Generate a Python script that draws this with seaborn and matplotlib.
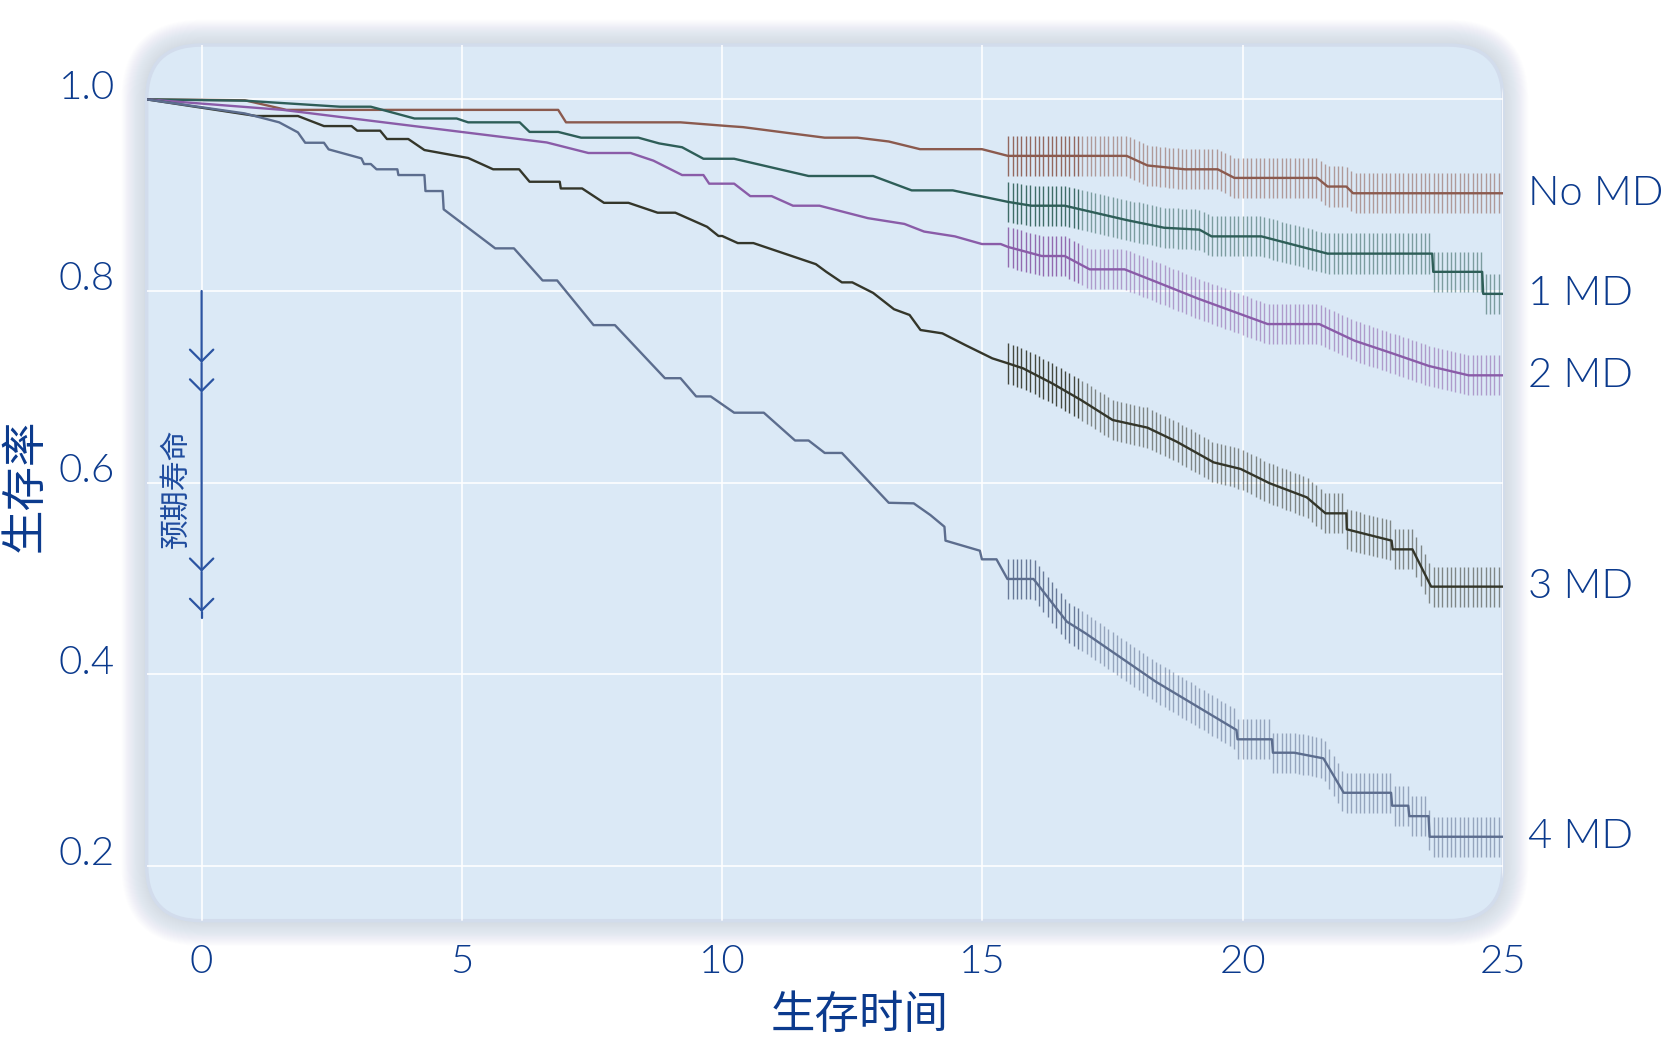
import numpy as np
import pandas as pd
import matplotlib
matplotlib.use("Agg")
import matplotlib.pyplot as plt
import seaborn as sns
from matplotlib.patches import FancyBboxPatch
from matplotlib.transforms import ScaledTranslation

# ---------------- data ----------------
groups = ["No MD", "1 MD", "2 MD", "3 MD", "4 MD"]
colors = ["#8b5a4e", "#2e5e58", "#8a5ca8", "#34362a", "#5c6d8e"]

t_no = [-1.06, 0.83, 1.63, 6.85, 7.0, 9.2, 10.14, 10.4, 11.25, 11.97, 12.6, 13.2, 13.8, 14.99, 15.49,
        17.77, 18.17, 18.89, 19.52, 19.84, 21.43, 21.63, 21.99, 22.12, 25.0]
s_no = [1.0, 0.999, 0.989, 0.989, 0.976, 0.976, 0.972, 0.971, 0.965, 0.960, 0.960, 0.956, 0.948, 0.948, 0.941,
        0.941, 0.931, 0.927, 0.927, 0.918, 0.918, 0.909, 0.909, 0.902, 0.902]

t_1 = [-1.06, 0.83, 2.66, 3.25, 4.09, 4.9, 5.12, 6.11, 6.3, 6.85, 7.29, 8.39, 8.79, 9.23, 9.64, 10.23, 11.66,
       12.9, 13.64, 14.43, 15.49, 15.94, 16.58, 17.77, 18.49, 19.17, 19.4, 20.36, 21.63, 23.64, 23.66, 24.6,
       24.62, 25.0]
s_1 = [1.0, 0.9986, 0.9923, 0.9923, 0.980, 0.980, 0.976, 0.976, 0.966, 0.966, 0.960, 0.960, 0.954, 0.950,
       0.938, 0.938, 0.920, 0.920, 0.905, 0.905, 0.893, 0.889, 0.889, 0.874, 0.866, 0.864, 0.857, 0.857, 0.839,
       0.839, 0.820, 0.820, 0.797, 0.797]

t_2 = [-1.06, 1.56, 6.63, 7.43, 8.24, 8.68, 9.23, 9.64, 9.75, 10.23, 10.54, 10.95, 11.36, 11.87, 12.8, 13.5,
       13.88, 14.47, 14.99, 15.35, 15.49, 16.14, 16.58, 17.06, 17.73, 18.33, 19.13, 19.92, 20.48, 21.47, 22.15,
       22.87, 23.58, 24.34, 25.0]
s_2 = [1.0, 0.989, 0.955, 0.944, 0.944, 0.936, 0.921, 0.921, 0.912, 0.912, 0.899, 0.899, 0.889, 0.889, 0.876,
       0.870, 0.862, 0.857, 0.849, 0.849, 0.846, 0.8365, 0.8365, 0.8226, 0.8226, 0.8097, 0.7923, 0.7766, 0.7655,
       0.7655, 0.7481, 0.735, 0.7217, 0.712, 0.712]

t_3 = [-1.06, 1.05, 1.85, 2.35, 2.88, 2.99, 3.43, 3.56, 3.97, 4.28, 5.12, 5.6, 6.1, 6.3, 6.88, 6.9, 7.31, 7.73,
       8.2, 8.76, 9.1, 9.71, 9.93, 10.0, 10.3, 10.6, 11.8, 12.0, 12.3, 12.5, 12.9, 13.3, 13.6, 13.81, 14.23,
       14.67, 15.19, 15.49, 15.78, 16.34, 16.9, 17.5, 18.17, 18.73, 19.44, 19.96, 20.52, 21.23, 21.59, 21.99,
       22.0, 22.86, 22.88, 23.26, 23.62, 25.0]
s_3 = [1.0, 0.9826, 0.9826, 0.9721, 0.9721, 0.9673, 0.9673, 0.9586, 0.9586, 0.9471, 0.9388, 0.927, 0.927,
       0.914, 0.914, 0.907, 0.907, 0.892, 0.892, 0.8817, 0.8817, 0.867, 0.8574, 0.8574, 0.85, 0.85, 0.828, 0.82,
       0.809, 0.809, 0.798, 0.781, 0.775, 0.7593, 0.7558, 0.7436, 0.7297, 0.7245, 0.7193, 0.7036, 0.686,
       0.6654, 0.6574, 0.6428, 0.6212, 0.6143, 0.5993, 0.5847, 0.568, 0.568, 0.5513, 0.5395, 0.5304, 0.5304,
       0.4915, 0.4915]

t_4 = [-1.06, 0.83, 1.49, 1.85, 1.99, 2.35, 2.44, 3.07, 3.12, 3.25, 3.36, 3.76, 3.78, 4.28, 4.3, 4.63, 4.65,
       5.64, 6.0, 6.55, 6.83, 7.53, 7.94, 8.9, 9.2, 9.5, 9.78, 10.23, 10.8, 11.4, 11.66, 11.97, 12.3, 13.2,
       13.68, 14.0, 14.27, 14.29, 14.95, 14.99, 15.27, 15.48, 15.98, 16.62, 16.98, 18.33, 19.88, 19.9, 20.56,
       20.58, 20.99, 21.55, 21.94, 22.85, 22.87, 23.18, 23.2, 23.57, 23.59, 25.0]
s_4 = [1.0, 0.9853, 0.976, 0.9655, 0.9547, 0.9547, 0.9478, 0.9384, 0.9325, 0.9325, 0.927, 0.927, 0.921, 0.921,
       0.9043, 0.9043, 0.8852, 0.8445, 0.8445, 0.811, 0.811, 0.7644, 0.7644, 0.709, 0.709, 0.69, 0.69, 0.673,
       0.673, 0.644, 0.644, 0.631, 0.631, 0.579, 0.5784, 0.5662, 0.554, 0.5395, 0.529, 0.520, 0.520, 0.4995,
       0.4995, 0.455, 0.4428, 0.3923, 0.3419, 0.3322, 0.3322, 0.3182, 0.3182, 0.3123, 0.2764, 0.2764, 0.2629,
       0.2629, 0.252, 0.252, 0.2305, 0.2305]

times = [t_no, t_1, t_2, t_3, t_4]
survs = [s_no, s_1, s_2, s_3, s_4]

# confidence marks (monthly, from year 15.5)
ci_start, ci_end, ci_step = 15.5, 25.0, 1 / 12
ci_half = 0.021

x_ticks = [0, 5, 10, 15, 20, 25]
y_ticks = [0.2, 0.4, 0.6, 0.8, 1.0]
y_tick_labels = ["0.2", "0.4", "0.6", "0.8", "1.0"]

arrow_x = 0
arrow_marks = [0.8, 0.725, 0.694, 0.507, 0.465]
arrow_end = 0.459
arrow_text = "预期寿命"

x_label = "生存时间"
y_label = "生存率"

# ---------------- style ----------------
sns.set_theme(style="white")
plt.rcParams["font.family"] = ["Lato", "Noto Sans CJK SC", "DejaVu Sans"]
TXT = "#0b3a8d"
CJK = ["Noto Sans CJK SC", "DejaVu Sans"]
NUMW = 350

fig = plt.figure(figsize=(16.7, 10.41), dpi=100)
fig.patch.set_facecolor("white")
L, R, T, Bt = 146.7, 1503.0, 45.0, 920.7
ax = fig.add_axes([L / 1670, (1041 - Bt) / 1041, (R - L) / 1670, (Bt - T) / 1041])
ax.patch.set_visible(False)
for sp in ax.spines.values():
    sp.set_visible(False)

# rounded panel with soft glow (in inches)
px0, py0 = L / 100, (1041 - Bt) / 100
pw, ph = (R - L) / 100, (Bt - T) / 100
rad = 0.55
for i in range(28, 0, -1):
    pad = i * 0.009
    g = FancyBboxPatch((px0 - pad, py0 - pad), pw + 2 * pad, ph + 2 * pad,
                       boxstyle=f"round,pad=0,rounding_size={rad + pad}",
                       transform=fig.dpi_scale_trans, facecolor="#aebdde",
                       edgecolor="none", alpha=0.018, zorder=-2)
    fig.add_artist(g)
panel = FancyBboxPatch((px0, py0), pw, ph, boxstyle=f"round,pad=0,rounding_size={rad}",
                       transform=fig.dpi_scale_trans, facecolor="#dbe9f6",
                       edgecolor="#d2dcec", lw=2.5, zorder=0)
panel.set_clip_on(False)
ax.add_patch(panel)

ax.set_xlim(-1.055, 25)
ax.set_ylim(0.1429, 1.0567)

# grid
for xv in x_ticks:
    ln = ax.axvline(xv, color="white", lw=1.2, alpha=0.95, zorder=1)
    ln.set_clip_path(panel)
for yv in y_ticks:
    ln = ax.axhline(yv, color="white", lw=1.2, alpha=0.95, zorder=1)
    ln.set_clip_path(panel)

# curves and confidence marks
ci_t = np.arange(ci_start, ci_end, ci_step)
for name, t, s, c in zip(groups, times, survs, colors):
    df = pd.DataFrame({"t": t, "s": s})
    n0 = len(ax.lines)
    sns.lineplot(data=df, x="t", y="s", ax=ax, color=c, lw=1.7, estimator=None,
                 sort=False, legend=False, zorder=4)
    for ln in ax.lines[n0:]:
        ln.set_clip_path(panel)
    centers = np.interp(ci_t, t, s)
    early = ci_t < 16.9
    for mask, a in ((early, 0.9), (~early, 0.55)):
        vl = ax.vlines(ci_t[mask], centers[mask] - ci_half, centers[mask] + ci_half,
                       colors=c, lw=1.0, alpha=a, zorder=3)
        vl.set_clip_path(panel)
    ax.annotate(name, xy=(25, s[-1]), xytext=(18, 0), textcoords="offset points",
                ha="left", va="center", fontsize=30, color=TXT, weight=NUMW,
                annotation_clip=False)

# life-expectancy arrow
for y0, y1 in zip(arrow_marks[:-1], arrow_marks[1:]):
    ax.annotate("", xy=(arrow_x, y1), xytext=(arrow_x, y0),
                arrowprops=dict(arrowstyle="->,head_length=0.42,head_width=0.42",
                                color="#2b54a2", lw=1.6, shrinkA=0, shrinkB=0,
                                mutation_scale=20),
                zorder=5)
ax.plot([arrow_x, arrow_x], [arrow_marks[-1], arrow_end], color="#2b54a2", lw=1.6, zorder=5)
ax.text(-0.49, 0.594, arrow_text, rotation=90, ha="center", va="center",
        fontsize=21.5, color="#1f4c9e", family=CJK, zorder=5)

# ticks
ax.set_xticks(x_ticks)
ax.set_xticklabels([str(v) for v in x_ticks])
ax.set_yticks(y_ticks)
ax.set_yticklabels(y_tick_labels)
ax.tick_params(axis="both", length=0, labelsize=29, labelcolor=TXT)
ax.tick_params(axis="x", pad=17)
ax.tick_params(axis="y", pad=23)
for lab in ax.get_xticklabels() + ax.get_yticklabels():
    lab.set_fontweight(NUMW)
off = ScaledTranslation(0, 0.15, fig.dpi_scale_trans)
for lab in ax.get_yticklabels():
    lab.set_transform(lab.get_transform() + off)

# axis labels
ax.set_xlabel(x_label, fontsize=32, color=TXT, family=CJK, weight="medium")
ax.set_ylabel(y_label, fontsize=32, color=TXT, family=CJK, weight="medium")
ax.xaxis.set_label_coords(0.526, -0.1077)
ax.xaxis.label.set_va("center")
ax.yaxis.set_label_coords(-0.0897, 0.4976)
ax.yaxis.label.set_va("center")

fig.savefig("out.png", dpi=100, facecolor="white")
